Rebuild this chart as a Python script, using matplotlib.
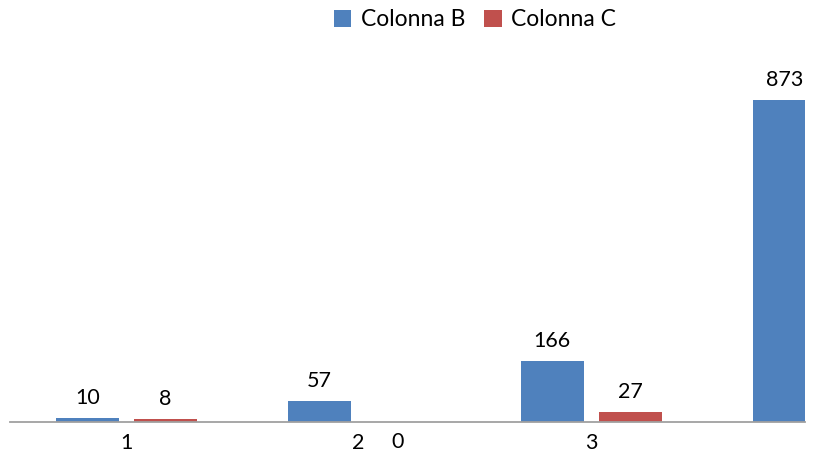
import matplotlib
matplotlib.use("Agg")
import matplotlib.pyplot as plt
import numpy as np
from matplotlib.patches import Patch

categories = ["1", "2", "3", ""]
colonna_b = [10, 57, 166, 873]
colonna_c = [8, 0, 27, np.nan]
series_names = ["Colonna B", "Colonna C"]
colors = ["#4F81BD", "#C0504D"]

plt.rcParams['font.family'] = ['Lato', 'DejaVu Sans']

W, H = 818, 457
fig = plt.figure(figsize=(W/100, H/100), dpi=100)
ax_left, ax_right = 10, 805
ax_bottom_px, ax_top_px = 422, 40
ax = fig.add_axes([ax_left/W, (H-ax_bottom_px)/H, (ax_right-ax_left)/W, (ax_bottom_px-ax_top_px)/H])

x = np.arange(len(categories))
bw = 63/232.5
off = 39/232.5

for i, (vals, col) in enumerate(zip([colonna_b, colonna_c], colors)):
    pos = x + (-off if i == 0 else off)
    vals_arr = np.array(vals, dtype=float)
    ax.bar(pos, vals_arr, width=bw, color=col, zorder=2)
    for p, v in zip(pos, vals_arr):
        if np.isnan(v):
            continue
        dy = 14.4 if v > 0 else -14.4
        ax.annotate(f"{int(v)}", (p, v), xytext=(0, dy), textcoords="offset points",
                    ha="center", va="center", fontsize=15.5, color="#000000")

for s in ["top", "right", "left"]:
    ax.spines[s].set_visible(False)
ax.spines["bottom"].set_color("#A0A0A0")
ax.spines["bottom"].set_linewidth(1.3)
ax.set_yticks([])
ax.set_xticks(x)
ax.set_xticklabels(categories, fontsize=15.5)
ax.tick_params(axis="x", length=0, pad=8)

ymax = (ax_bottom_px - ax_top_px) / (322/873)
ax.set_ylim(0, ymax)
ax.set_xlim(-0.5, 3 - 18.5/232.5)

handles = [Patch(facecolor=c, edgecolor="none") for c in colors]
fig.legend(handles, series_names, loc="center", bbox_to_anchor=(475/W, 1 - 20/H),
           ncol=2, frameon=False, fontsize=16.5, handlelength=0.75, handleheight=0.75,
           handletextpad=0.4, columnspacing=0.85)

fig.savefig("out.png", dpi=100)
